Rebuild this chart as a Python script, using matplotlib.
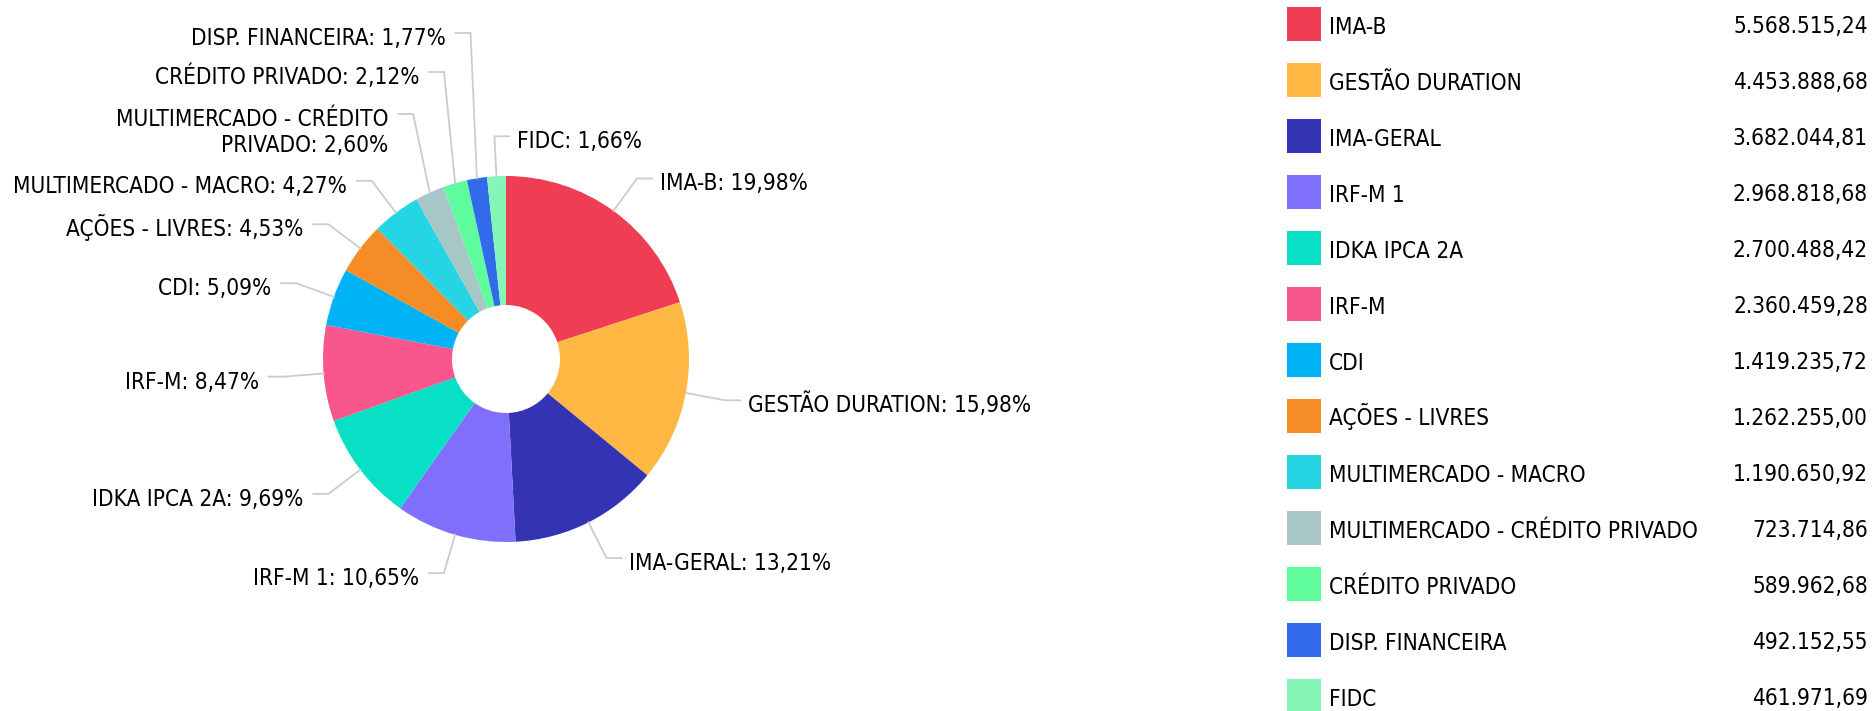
import textwrap
import numpy as np
import matplotlib
matplotlib.use("Agg")
import matplotlib.pyplot as plt
from matplotlib.font_manager import FontProperties, fontManager
from matplotlib.patches import Rectangle

categories = ["IMA-B", "GESTÃO DURATION", "IMA-GERAL", "IRF-M 1", "IDKA IPCA 2A",
              "IRF-M", "CDI", "AÇÕES - LIVRES", "MULTIMERCADO - MACRO",
              "MULTIMERCADO - CRÉDITO PRIVADO", "CRÉDITO PRIVADO",
              "DISP. FINANCEIRA", "FIDC"]
values = [5568515.24, 4453888.68, 3682044.81, 2968818.68, 2700488.42,
          2360459.28, 1419235.72, 1262255.00, 1190650.92,
          723714.86, 589962.68, 492152.55, 461971.69]
colors = ["#ef3d54", "#ffb843", "#3333b4", "#806ffd", "#08e0c5",
          "#f9568e", "#00b3f4", "#f68c25", "#26d5e3",
          "#a6c7c6", "#5efc9c", "#326bea", "#85f5b8"]

# label vertical positions (pixels from top) for labels pushed apart
label_y_override = {"MULTIMERCADO - CRÉDITO PRIVADO": 114,
                    "CRÉDITO PRIVADO": 72,
                    "DISP. FINANCEIRA": 33}

W, H = 1874, 711
fig = plt.figure(figsize=(W / 100, H / 100), dpi=100)
ax = fig.add_axes([0, 0, 1, 1])

def Y(y):
    return H - y

# font choice: prefer an upright condensed face
def _w(f):
    try:
        return int(f.weight)
    except Exception:
        return 400 if str(f.weight) in ("normal", "regular", "book") else 700
cond = [f for f in fontManager.ttflist
        if f.name == "DejaVu Sans" and f.stretch == "condensed"
        and f.style == "normal" and _w(f) == 400
        and "oblique" not in f.fname.lower() and "bold" not in f.fname.lower()]
if cond:
    prop = FontProperties(fname=cond[0].fname)
else:
    prop = FontProperties(family="DejaVu Sans")

renderer = fig.canvas.get_renderer()
def text_w(s, size):
    p = prop.copy(); p.set_size(size)
    w, h, d = renderer.get_text_width_height_descent(s, p, ismath=False)
    return w, h
# fit size to reference width of the longest legend label (~370 px)
w100, _ = text_w("MULTIMERCADO - CRÉDITO PRIVADO", 100)
fs = 100 * 370 / w100
_, cap = text_w("H", fs)
prop.set_size(fs)

cx, cy = 506, 359
R, R_in = 183, 54

wedges, _ = ax.pie(values, colors=colors, startangle=90, counterclock=False,
                   radius=R, center=(cx, Y(cy)),
                   wedgeprops=dict(width=R - R_in, linewidth=0))
ax.set_xlim(0, W)
ax.set_ylim(0, H)
ax.set_aspect("auto")
ax.axis("off")

total = sum(values)
line_col = "#cccccc"
for cat, v, wdg in zip(categories, values, wedges):
    mid = np.deg2rad((wdg.theta1 + wdg.theta2) / 2)
    dx, dy = np.cos(mid), np.sin(mid)
    sx, sy = cx + R * dx, Y(cy) + R * dy
    bx, by = cx + (R + 40) * dx, Y(cy) + (R + 40) * dy
    if cat in label_y_override:
        by = Y(label_y_override[cat])
    right = dx > -0.1
    ex = bx + 15 if right else bx - 15
    ax.plot([sx, bx, ex], [sy, by, by], color=line_col, lw=1.3,
            solid_joinstyle="miter", zorder=1)
    pct = f"{100 * v / total:.2f}".replace(".", ",")
    label = textwrap.fill(f"{cat}: {pct}%", 30)
    for i, ln in enumerate(label.split("\n")):
        cap_center_px = (H - by) + 3.5 + i * 26
        base = cap_center_px + cap / 2
        if right:
            ax.text(ex + 8, Y(base), ln, ha="left", va="baseline",
                    fontproperties=prop, color="#000000")
        else:
            ax.text(ex - 10, Y(base), ln, ha="right", va="baseline",
                    fontproperties=prop, color="#000000")

# legend
def fmt_br(v):
    s = f"{v:,.2f}"
    return s.replace(",", "#").replace(".", ",").replace("#", ".")

for k, (cat, v, c) in enumerate(zip(categories, values, colors)):
    yc = 24 + 56 * k
    ax.add_patch(Rectangle((1287, Y(yc + 17)), 34, 34, facecolor=c,
                           edgecolor="none"))
    base = yc + 1 + cap / 2
    ax.text(1329, Y(base), cat, ha="left", va="baseline", fontproperties=prop,
            color="#000000")
    ax.text(1868, Y(base), fmt_br(v), ha="right", va="baseline",
            fontproperties=prop, color="#000000")

fig.savefig("out.png", dpi=100, facecolor="white")
